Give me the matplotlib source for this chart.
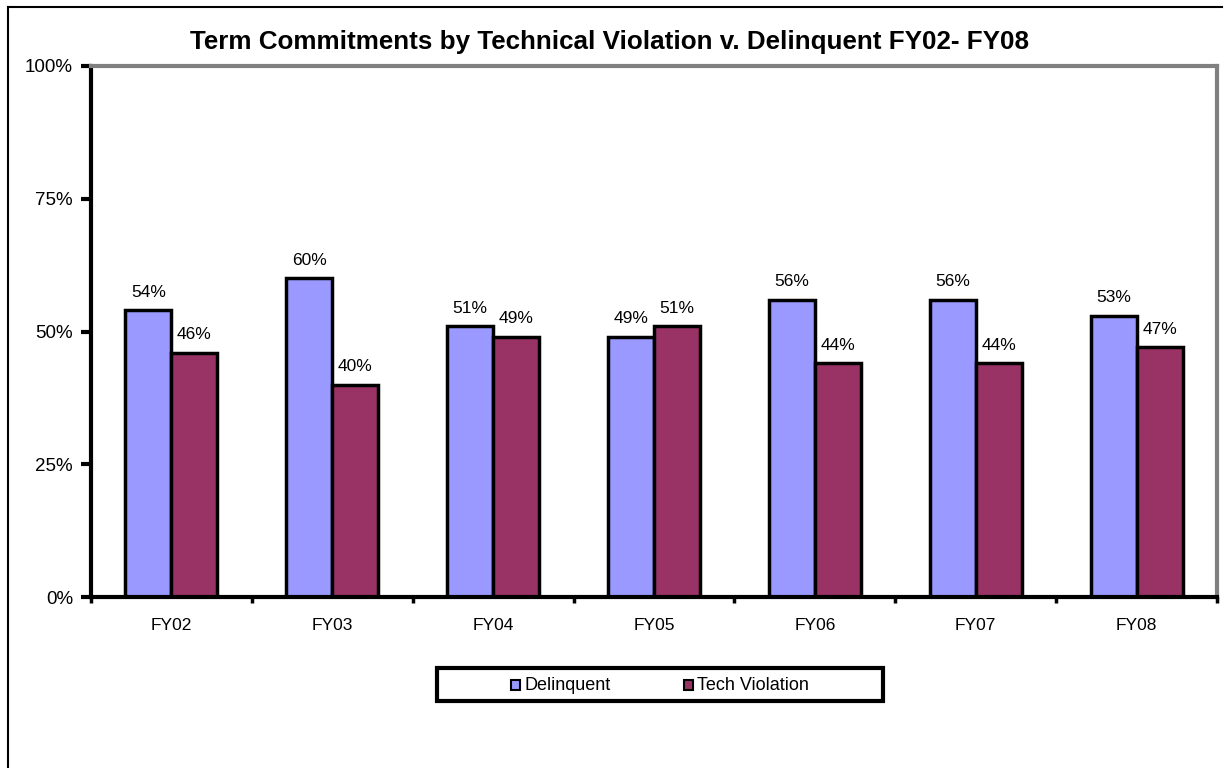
import numpy as np
import matplotlib.pyplot as plt
from matplotlib.patches import Rectangle

years = ['FY02', 'FY03', 'FY04', 'FY05', 'FY06', 'FY07', 'FY08']
delinquent = [54, 60, 51, 49, 56, 56, 53]
tech_violation = [46, 40, 49, 51, 44, 44, 47]
y_ticks = [0, 25, 50, 75, 100]
y_labels = ['0%', '25%', '50%', '75%', '100%']

plt.rcParams['font.family'] = ['Liberation Sans', 'DejaVu Sans']

fig = plt.figure(figsize=(12.25, 7.68), dpi=100)
W, H = 1225, 768
ax = fig.add_axes([91 / W, 1 - 597 / H, (1217 - 91) / W, (597 - 66) / H])

x = np.arange(len(years))
w = 0.286
ax.bar(x - w / 2, delinquent, w, color='#9999ff', edgecolor='black', linewidth=2.5)
ax.bar(x + w / 2, tech_violation, w, color='#993366', edgecolor='black', linewidth=2.5)

for i in range(len(years)):
    ax.text(x[i] - w / 2, delinquent[i] + 2, f'{delinquent[i]}%', ha='center', va='bottom', fontsize=12.5)
    ax.text(x[i] + w / 2, tech_violation[i] + 2, f'{tech_violation[i]}%', ha='center', va='bottom', fontsize=12.5)

ax.set_xlim(-0.5, len(years) - 0.5)
ax.set_ylim(0, 100)
ax.set_yticks(y_ticks)
ax.set_yticklabels(y_labels, fontsize=13.5)
ax.tick_params(axis='y', length=7, width=3, pad=6)
ax.set_xticks(x)
ax.set_xticklabels(years, fontsize=12.5)
ax.set_xticks(np.arange(-0.5, len(years)), minor=True)
ax.tick_params(axis='x', which='major', length=0, pad=15)
ax.tick_params(axis='x', which='minor', length=4, width=2.5)

for side in ['top', 'right']:
    ax.spines[side].set_color('#808080')
    ax.spines[side].set_linewidth(3)
for side in ['left', 'bottom']:
    ax.spines[side].set_color('black')
    ax.spines[side].set_linewidth(3)

fig.text(610 / W, 1 - 42 / H, 'Term Commitments by Technical Violation v. Delinquent FY02- FY08',
         ha='center', va='center', fontsize=18.7, fontweight='bold')

# legend box
fig.patches.append(Rectangle((437 / W, 1 - 701 / H), (883 - 437) / W, (701 - 668) / H,
                             transform=fig.transFigure, fill=False, edgecolor='black', linewidth=3))
for lx, col, lab in [(511, '#9999ff', 'Delinquent'), (684, '#993366', 'Tech Violation')]:
    fig.patches.append(Rectangle((lx / W, 1 - 690 / H), 9 / W, 10 / H, transform=fig.transFigure,
                                 facecolor=col, edgecolor='black', linewidth=1.5))
    fig.text((lx + 13) / W, 1 - 685 / H, lab, ha='left', va='center', fontsize=13)

# outer frame lines
fig.add_artist(plt.Line2D([8 / W, 8 / W], [0, 1 - 7 / H], color='black', linewidth=1.5, transform=fig.transFigure))
fig.add_artist(plt.Line2D([8 / W, 1222 / W], [1 - 7 / H, 1 - 7 / H], color='black', linewidth=1.5, transform=fig.transFigure))

fig.savefig('out.png', dpi=100)
